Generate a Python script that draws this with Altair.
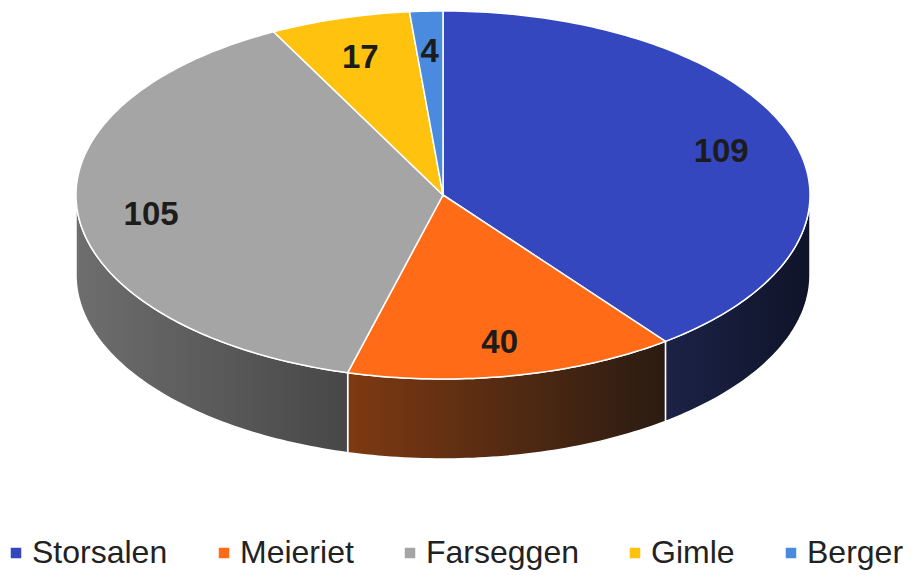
import altair as alt
import numpy as np
import pandas as pd

# ---- data ----
names = ["Storsalen", "Meieriet", "Farseggen", "Gimle", "Berger"]
values = [109, 40, 105, 17, 4]
top_colors = ["#3447BF", "#FF6B17", "#A5A5A5", "#FFC20E", "#4A8BDF"]
side_left = ["#1B2246", "#7E3A12", "#6E6E6E", "#8A6A00", "#26487A"]
side_right = ["#0F1429", "#2A1B12", "#474747", "#6A5000", "#1A3358"]

# ---- layout (view = pixel space) ----
W, H = 897, 562
CX, CY, RX, RY, DEPTH = 435, 187, 367, 184, 80
LABEL_R = 0.8
LABEL_DY = 4

vals = np.array(values, dtype=float)
ends = np.cumsum(vals) / vals.sum() * 360.0
starts = ends - vals / vals.sum() * 360.0


def rim(t, drop=0.0):
    r = np.radians(t)
    return CX + RX * np.sin(r), CY - RY * np.cos(r) + drop


top_rows, side_rows, label_rows = [], [], []
for k, name in enumerate(names):
    a0, a1 = starts[k], ends[k]
    n = max(int(a1 - a0) + 2, 3)
    ts = np.linspace(a0, a1, n)
    pts = [(CX, CY)] + [rim(t) for t in ts] + [(CX, CY)]
    for i, (x, y) in enumerate(pts):
        top_rows.append({"slice": name, "i": i, "x": x, "y": y})
    # visible front side (90..270 degrees)
    s0, s1 = max(a0, 90.0), min(a1, 270.0)
    if s0 < s1:
        m = max(int(s1 - s0) + 2, 3)
        ss = np.linspace(s0, s1, m)
        spts = [rim(t) for t in ss] + [rim(t, DEPTH) for t in ss[::-1]]
        spts.append(spts[0])
        for i, (x, y) in enumerate(spts):
            side_rows.append({"slice": name, "i": i, "x": x, "y": y})
    mid = (a0 + a1) / 2.0
    lx = CX + LABEL_R * RX * np.sin(np.radians(mid))
    ly = CY - LABEL_R * RY * np.cos(np.radians(mid)) + LABEL_DY
    label_rows.append({"slice": name, "value": values[k], "x": lx, "y": ly})

top_df = pd.DataFrame(top_rows)
side_df = pd.DataFrame(side_rows)
label_df = pd.DataFrame(label_rows)

xs = alt.Scale(domain=[0, W])
ys = alt.Scale(domain=[0, H], reverse=True)
X = alt.X("x:Q", scale=xs, axis=None)
Y = alt.Y("y:Q", scale=ys, axis=None)

layers = []
for k, name in enumerate(names):
    if name not in set(side_df["slice"]):
        continue
    grad = alt.LinearGradient(
        gradient="linear",
        stops=[alt.GradientStop(color=side_left[k], offset=0),
               alt.GradientStop(color=side_right[k], offset=1)],
        x1=0, x2=1, y1=0, y2=0,
    )
    layers.append(
        alt.Chart(side_df).transform_filter(alt.datum.slice == name)
        .mark_line(filled=True, fill=grad, stroke="white", strokeWidth=1.5,
                   strokeJoin="round")
        .encode(x=X, y=Y, order="i:Q")
    )

top = alt.Chart(top_df).mark_line(
    filled=True, stroke="white", strokeWidth=1.5, strokeJoin="round"
).encode(
    x=X, y=Y, order="i:Q", detail="slice:N",
    color=alt.Color(
        "slice:N",
        scale=alt.Scale(domain=names, range=top_colors),
        legend=alt.Legend(
            orient="none", legendX=-8, legendY=529, direction="horizontal",
            title=None, symbolType="square", symbolSize=110,
            symbolStrokeWidth=0, labelFont="Liberation Sans",
            labelFontSize=32, labelColor="#222222", labelOffset=0,
            columnPadding=40, padding=0, labelLimit=400,
        ),
    ),
)
layers.append(top)

labels = alt.Chart(label_df).mark_text(
    font="Liberation Sans", fontSize=33, fontWeight="bold", color="#1C1C1C",
    align="center", baseline="middle",
).encode(x=X, y=Y, text="value:Q")
layers.append(labels)

chart = alt.layer(*layers).properties(
    width=W, height=H, padding=0,
    autosize=alt.AutoSizeParams(type="none"),
).configure_view(stroke=None)

chart.save("out.html", embed_options={"renderer": "svg", "actions": False})
